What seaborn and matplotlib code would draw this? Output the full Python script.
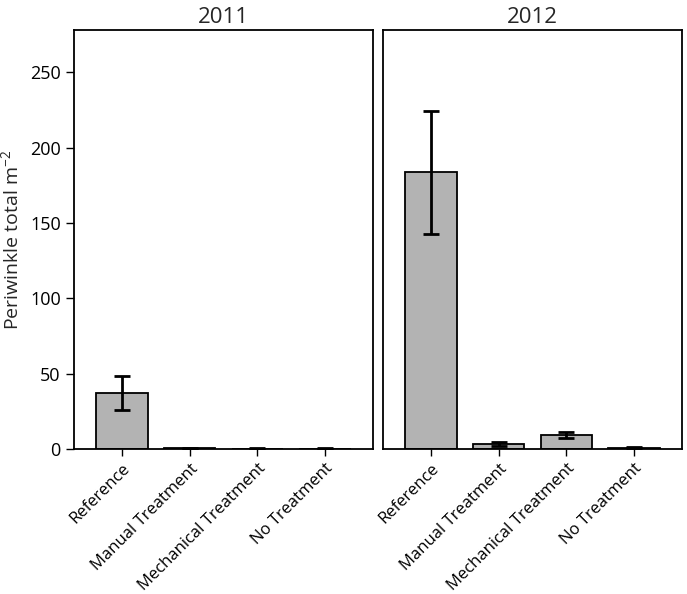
import matplotlib
matplotlib.use("Agg")
import matplotlib.pyplot as plt
import seaborn as sns
import numpy as np
import pandas as pd

categories = ["Reference", "Manual Treatment", "Mechanical Treatment", "No Treatment"]
years = ["2011", "2012"]
means_2011 = [37.0, 0.5, 0.3, 0.3]
lower_2011 = [26.0, 0.2, 0.2, 0.1]
upper_2011 = [48.5, 0.8, 0.4, 0.5]
means_2012 = [183.5, 3.3, 9.0, 0.8]
lower_2012 = [142.5, 2.3, 7.0, 0.4]
upper_2012 = [224.0, 4.5, 11.0, 1.2]
y_ticks = [0, 50, 100, 150, 200, 250]

sns.set_theme(style="ticks")
plt.rcParams["font.family"] = ["Open Sans", "DejaVu Sans"]
plt.rcParams["mathtext.fontset"] = "custom"
plt.rcParams["mathtext.rm"] = "Open Sans"
plt.rcParams["mathtext.it"] = "Open Sans"

fig = plt.figure(figsize=(6.87, 5.94), dpi=100)
ax1 = fig.add_axes([74/687, 1-449/594, 299/687, 419/594])
ax2 = fig.add_axes([383/687, 1-449/594, 299/687, 419/594])

data = [(means_2011, lower_2011, upper_2011), (means_2012, lower_2012, upper_2012)]
for ax, yr, (m, lo, hi) in zip([ax1, ax2], years, data):
    df = pd.DataFrame({"cat": categories, "val": m})
    sns.barplot(data=df, x="cat", y="val", ax=ax, color="#b3b3b3", saturation=1,
                edgecolor="black", linewidth=1.3, width=0.76)
    xs = np.arange(len(categories))
    m_arr = np.array(m); lo_arr = np.array(lo); hi_arr = np.array(hi)
    ax.errorbar(xs, m_arr, yerr=[m_arr - lo_arr, hi_arr - m_arr], fmt="none",
                ecolor="black", elinewidth=2.0, capsize=6, capthick=2.0)
    ax.set_xlim(-0.71, 3.71)
    ax.set_ylim(0, 278)
    ax.set_title(yr, fontsize=16, pad=5)
    ax.set_xlabel("")
    ax.set_ylabel("")
    for s in ax.spines.values():
        s.set_visible(True)
        s.set_linewidth(1.3)
        s.set_color("black")
    ax.tick_params(axis="x", length=5, width=1, labelsize=12, colors="black")
    ax.set_xticks(xs)
    ax.set_xticklabels(categories, rotation=45, ha="right", rotation_mode="anchor")

ax1.set_yticks(y_ticks)
ax1.tick_params(axis="y", length=6, width=1, labelsize=13, colors="black")
ax1.set_ylabel("Periwinkle total m$^{-2}$", fontsize=14, labelpad=6)
ax2.set_yticks([])

fig.savefig("out.png", dpi=100)
